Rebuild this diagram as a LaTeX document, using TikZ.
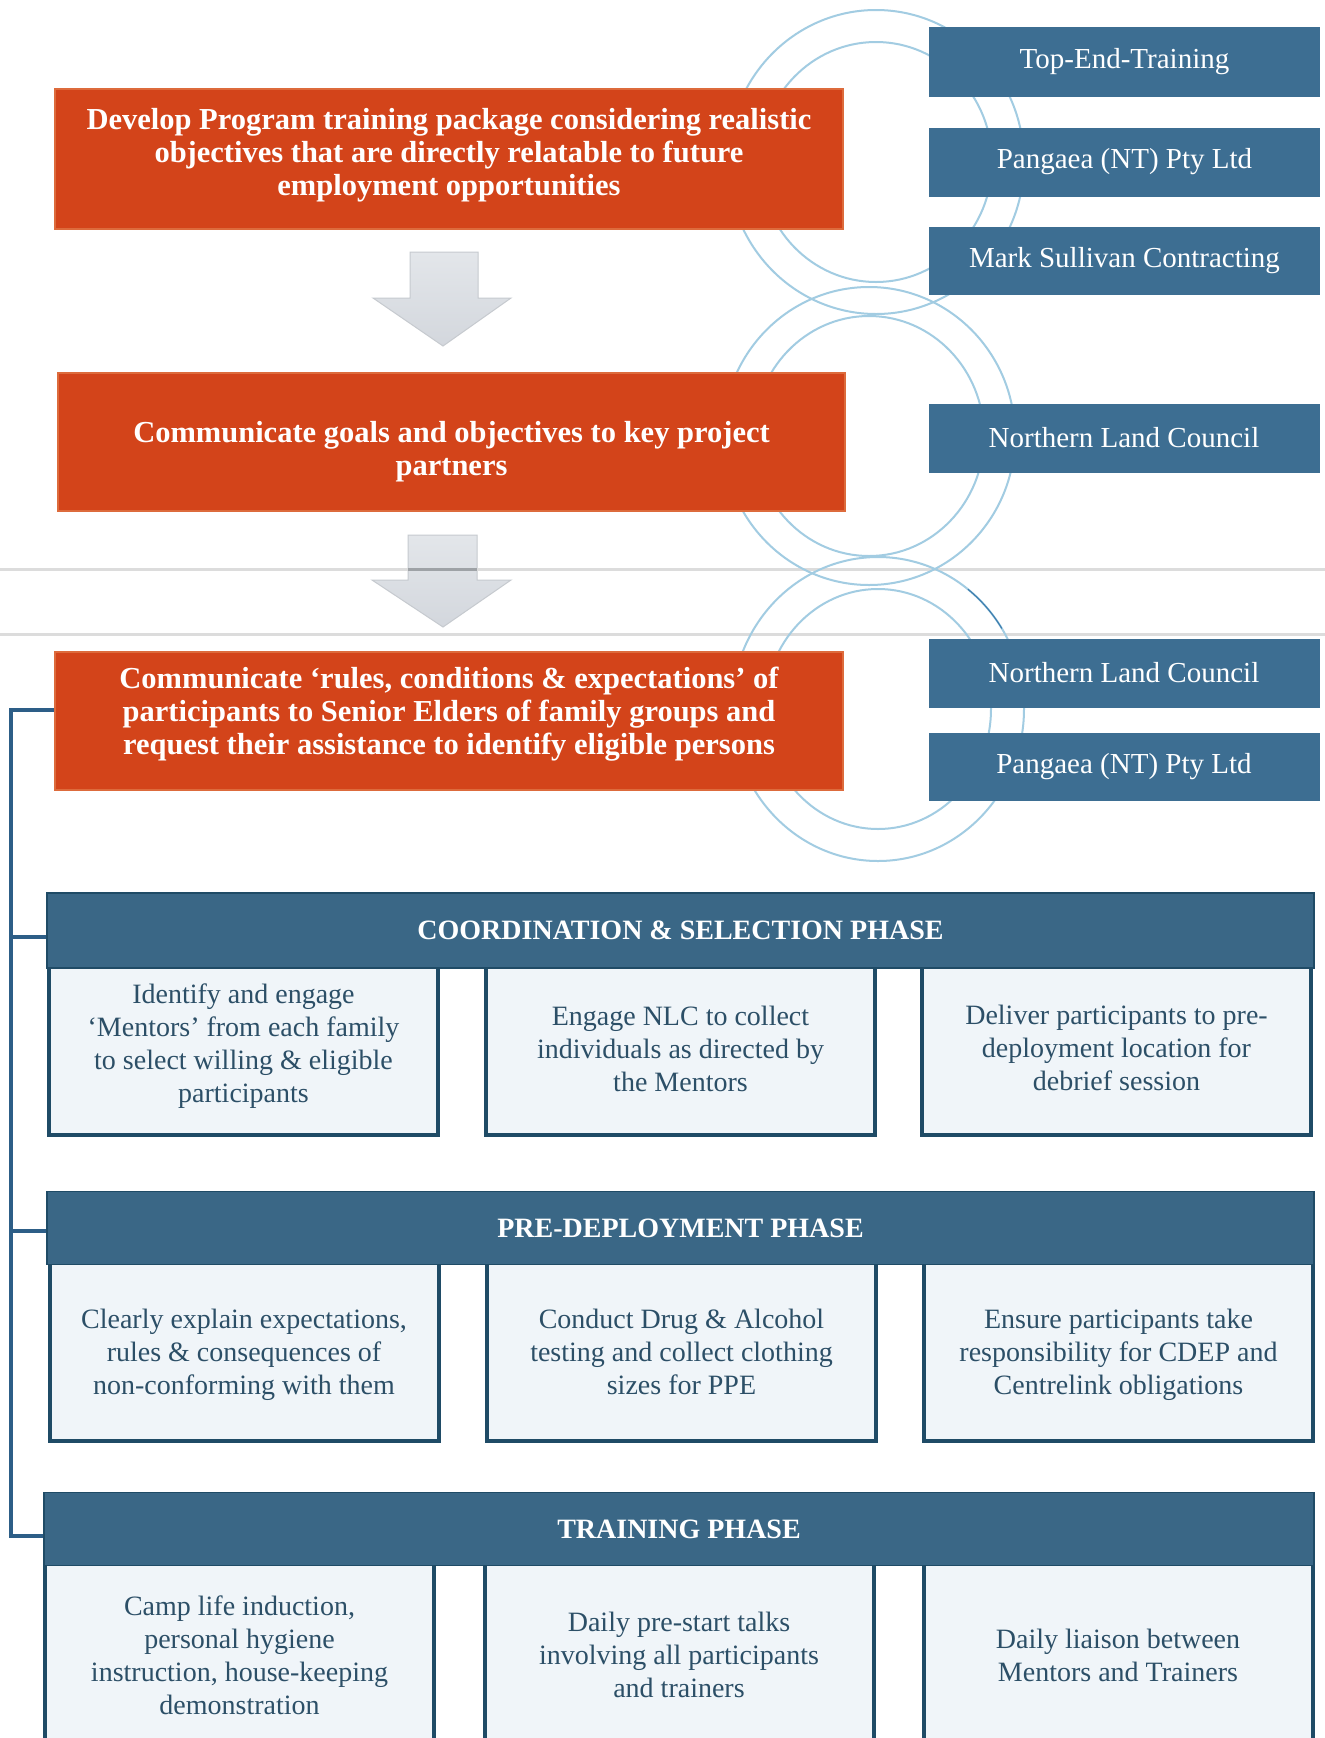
\documentclass[tikz,border=0pt]{standalone}
\usepackage{fontspec}
\setmainfont{Liberation Serif}
\definecolor{orng}{HTML}{D3441A}
\definecolor{oedge}{HTML}{DD6B3C}
\definecolor{sblue}{HTML}{3D6E92}
\definecolor{hblue}{HTML}{3A6786}
\definecolor{navy}{HTML}{1F4B66}
\definecolor{pale}{HTML}{F0F5F9}
\definecolor{txtb}{HTML}{2C4F67}
\definecolor{ringc}{HTML}{A2CCE2}
\definecolor{ringd}{HTML}{3F7FAF}
\definecolor{glinec}{HTML}{DCDCDC}
\definecolor{arrowt}{HTML}{E3E6EA}
\definecolor{arrowb}{HTML}{D3D7DD}
\definecolor{arrowd}{HTML}{C6CACF}
\definecolor{connc}{HTML}{2D5E87}
\tikzset{
  obox/.style={fill=orng, draw=oedge, line width=1.5pt, inner sep=0pt},
  otext/.style={text=white, align=center, inner sep=0pt, font=\bfseries\fontsize{30.5}{33}\selectfont},
  sbox/.style={fill=sblue, text=white, inner sep=0pt, minimum width=391pt, font=\fontsize{29}{33}\selectfont},
  phead/.style={fill=hblue, draw=navy, line width=1.5pt, text=white, inner sep=0pt, minimum width=1267pt, font=\bfseries\fontsize{28}{33}\selectfont},
  pbox/.style={fill=pale, draw=navy, line width=4pt, inner sep=0pt, minimum width=389pt},
  ptext/.style={text=txtb, align=center, inner sep=0pt, font=\fontsize{28}{33}\selectfont},
  ringo/.style={draw=ringc, line width=2pt},
  gl/.style={draw=glinec, line width=3pt},
  conn/.style={draw=connc, line width=3.5pt},
  blockarrow/.style={top color=arrowt, bottom color=arrowb, draw=arrowd, line width=1pt}
}
\begin{document}
\begin{tikzpicture}[x=1pt,y=-1pt]
\useasboundingbox (0,0) rectangle (1325,1738);
\clip (0,0) rectangle (1325,1738);
\fill[white] (0,0) rectangle (1325,1738);

% block arrows
\draw[blockarrow] (410,252) -- (478,252) -- (478,298) -- (511,298) -- (443,346) -- (373,298) -- (410,298) -- cycle;
\draw[blockarrow] (408,535) -- (477,535) -- (477,580) -- (511,580) -- (443,627) -- (372,580) -- (408,580) -- cycle;

% grey rules
\draw[gl] (0,569) -- (1325,569);
\draw[gl] (0,634) -- (1325,634);
\draw[draw=arrowd!80!black, line width=3pt] (408,569) -- (477,569);

% rings
\draw[ringo] (876,162) ellipse [x radius=148pt, y radius=152pt];
\draw[ringo] (876,162) ellipse [x radius=116pt, y radius=120pt];
\draw[ringo] (869,436) ellipse [x radius=146pt, y radius=149pt];
\draw[ringo] (869,436) ellipse [x radius=115pt, y radius=120pt];
\draw[ringo] (878,709) ellipse [x radius=146pt, y radius=152pt];
\draw[ringo] (878,709) ellipse [x radius=113pt, y radius=120pt];
\draw[draw=ringd, line width=1.2pt] plot[domain=32:52, smooth] ({878+146*cos(\x)},{709-152*sin(\x)});

% orange steps
\node[obox, minimum width=788pt, minimum height=140pt] (o1) at (449,159) {};
\node[otext] (o1t) at ([yshift=4pt]o1.center)
  {Develop Program training package considering realistic\\objectives that are directly relatable to future\\employment opportunities};
\node[obox, minimum width=787pt, minimum height=138pt] (o2) at (451.5,442) {};
\node[otext] (o2t) at ([yshift=-10pt]o2.center)
  {Communicate goals and objectives to key project\\partners};
\node[obox, minimum width=788pt, minimum height=138pt] (o3) at (449,721) {};
\node[otext] (o3t) at ([yshift=7pt]o3.center)
  {Communicate `rules, conditions \& expectations' of\\participants to Senior Elders of family groups and\\request their assistance to identify eligible persons};

% partner boxes
\node[sbox, minimum height=70pt] (t1) at (1124.5,62) {Top-End-Training};
\node[sbox, minimum height=69pt] (t2) at (1124.5,162) {Pangaea (NT) Pty Ltd};
\node[sbox, minimum height=68pt] (t3) at (1124.5,261) {Mark Sullivan Contracting};
\node[sbox, minimum height=69pt] (t4) at (1124,438) {Northern Land Council};
\node[sbox, minimum height=69pt] (t5) at (1124,673) {Northern Land Council};
\node[sbox, minimum height=68pt] (t6) at (1124,767) {Pangaea (NT) Pty Ltd};

% phase 1
\node[pbox, minimum height=175pt] (b11) at (243.5,1047.5) {};
\node[pbox, minimum height=175pt] (b12) at (680.5,1047.5) {};
\node[pbox, minimum height=175pt] (b13) at (1116.5,1047.5) {};
\node[ptext] at ([yshift=1pt]b11.center) {Identify and engage\\`Mentors' from each family\\to select willing \& eligible\\participants};
\node[ptext] at ([yshift=-1pt]b12.center) {Engage NLC to collect\\individuals as directed by\\the Mentors};
\node[ptext] at ([yshift=0pt]b13.center) {Deliver participants to pre-\\deployment location for\\debrief session};
\node[phead, minimum height=75pt] (h1) at (680.5,930.5) {COORDINATION \& SELECTION PHASE};

% phase 2
\node[pbox, minimum height=184pt] (b21) at (244,1349) {};
\node[pbox, minimum height=184pt] (b22) at (681.5,1349) {};
\node[pbox, minimum height=184pt] (b23) at (1118.5,1349) {};
\node[ptext] at ([yshift=-6pt]b21.center) {Clearly explain expectations,\\rules \& consequences of\\non-conforming with them};
\node[ptext] at ([yshift=-3pt]b22.center) {Conduct Drug \& Alcohol\\testing and collect clothing\\sizes for PPE};
\node[ptext] at ([yshift=-6pt]b23.center) {Ensure participants take\\responsibility for CDEP and\\Centrelink obligations};
\node[phead, minimum height=73pt] (h2) at (680.5,1228) {PRE-DEPLOYMENT PHASE};

% phase 3
\node[pbox, minimum height=196pt] (b31) at (239.5,1655) {};
\node[pbox, minimum height=196pt] (b32) at (679,1655) {};
\node[pbox, minimum height=196pt] (b33) at (1118,1655) {};
\node[ptext] at (b31.center) {Camp life induction,\\personal hygiene\\instruction, house-keeping\\demonstration};
\node[ptext] at (b32.center) {Daily pre-start talks\\involving all participants\\and trainers};
\node[ptext] at (b33.center) {Daily liaison between\\Mentors and Trainers};
\node[phead, minimum width=1270pt, minimum height=73pt] (h3) at (679,1529) {TRAINING PHASE};

% left connector
\coordinate (sp) at (11,0);
\draw[conn] ([yshift=11pt]o3.west) -- ([yshift=11pt]o3.west -| sp) |- ([yshift=-7pt]h3.west);
\draw[conn] ([yshift=-6.5pt]h1.west -| sp) -- ([yshift=-6.5pt]h1.west);
\draw[conn] ([yshift=-3pt]h2.west -| sp) -- ([yshift=-3pt]h2.west);
\end{tikzpicture}
\end{document}
